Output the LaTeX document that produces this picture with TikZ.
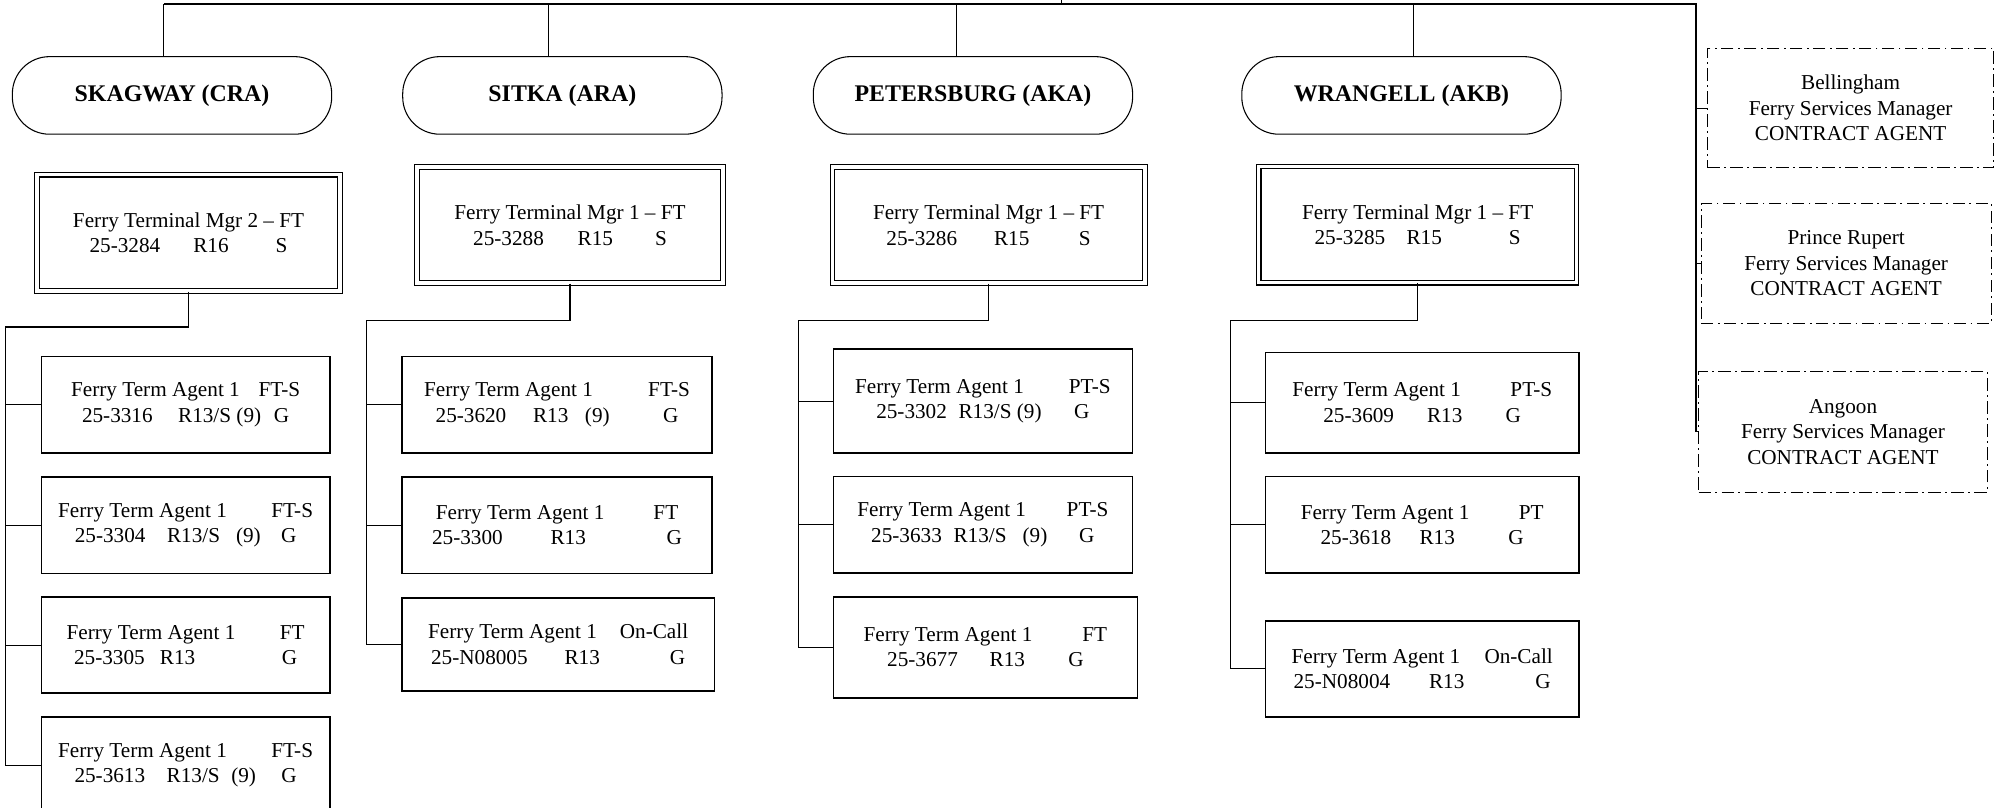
\documentclass[tikz,border=0pt]{standalone}
\usepackage{fontspec}
\setmainfont{Liberation Serif}
\newcommand{\tabsp}[1]{\hspace*{#1pt}}
\begin{document}
\begin{tikzpicture}[x=0.72pt,y=-0.72pt,
  every node/.style={font=\fontsize{12}{14.4}\selectfont},
  link/.style={line width=0.6pt},
  pill/.style={draw,line width=0.6pt,rounded corners=21pt,minimum width=180.7pt,minimum height=43.9pt,font=\fontsize{13.5}{16}\selectfont\bfseries},
  mgrbox/.style={draw,line width=0.6pt,double,double distance=2pt,minimum height=65.6pt,align=center},
  agentbox/.style={draw,line width=0.8pt,minimum height=54.4pt,align=center},
  contract/.style={draw,line width=0.6pt,dash pattern=on 7pt off 2.5pt on 1pt off 2.5pt,minimum height=67.9pt,align=center}]
\useasboundingbox (0,0) rectangle (1568,634.4);

\node[pill] (skag) at (135.2,75) {SKAGWAY (CRA)};
\node[pill] (sitka) at (442,75) {SITKA (ARA)};
\node[pill] (peter) at (764.7,75) {PETERSBURG (AKA)};
\node[pill] (wrang) at (1101.5,75) {WRANGELL (AKB)};

\node[mgrbox,minimum width=171.3pt,minimum height=65.8pt] (skmgr) at (148.2,183) {Ferry Terminal Mgr 2 – FT\\25-3284\tabsp{18.7}R16\tabsp{26.6}S};
\node[mgrbox,minimum width=173.1pt] (simgr) at (448,176.9) {Ferry Terminal Mgr 1 – FT\\25-3288\tabsp{19.1}R15\tabsp{23.8}S};
\node[mgrbox,minimum width=176.7pt] (pemgr) at (777,176.9) {Ferry Terminal Mgr 1 – FT\\25-3286\tabsp{20.9}R15\tabsp{28}S};
\node[mgrbox,minimum width=179.9pt,minimum height=65.8pt] (wrmgr) at (1114.2,176.5) {Ferry Terminal Mgr 1 – FT\\25-3285\tabsp{12}R15\tabsp{37.9}S};

\node[agentbox,minimum width=163.2pt] (skc1) at (145.9,318.2) {Ferry Term Agent 1\tabsp{10.6}FT-S\\25-3316\tabsp{14.4}R13/S (9)\tabsp{7.2}G};
\node[agentbox,minimum width=163.2pt] (skc2) at (145.9,412.8) {Ferry Term Agent 1\tabsp{25.2}FT-S\\25-3304\tabsp{12.2}R13/S\tabsp{9}(9)\tabsp{11.5}G};
\node[agentbox,minimum width=163.2pt] (skc3) at (145.9,507) {Ferry Term Agent 1\tabsp{25.2}FT\\25-3305\tabsp{8.6}R13\tabsp{49}G};
\node[agentbox,minimum width=163.2pt] (skc4) at (145.9,601.4) {Ferry Term Agent 1\tabsp{25.2}FT-S\\25-3613\tabsp{12.2}R13/S\tabsp{6.5}(9)\tabsp{14.4}G};

\node[agentbox,minimum width=175.4pt] (sic1) at (437.8,318.2) {Ferry Term Agent 1\tabsp{31.3}FT-S\\25-3620\tabsp{15.1}R13\tabsp{9.4}(9)\tabsp{30.2}G};
\node[agentbox,minimum width=175.4pt] (sic2) at (437.8,412.8) {Ferry Term Agent 1\tabsp{27.7}FT\\25-3300\tabsp{27}R13\tabsp{45.7}G};
\node[agentbox,minimum width=176.7pt,minimum height=52.6pt] (sic3) at (438.7,506.5) {Ferry Term Agent 1\tabsp{13}On-Call\\25-N08005\tabsp{20.9}R13\tabsp{39.6}G};

\node[agentbox,minimum width=169.2pt,minimum height=58.7pt] (pec1) at (772.5,315.2) {Ferry Term Agent 1\tabsp{25.5}PT-S\\25-3302\tabsp{6.6}R13/S (9)\tabsp{18.4}G};
\node[agentbox,minimum width=169.2pt] (pec2) at (772.5,412.5) {Ferry Term Agent 1\tabsp{23}PT-S\\25-3633\tabsp{6.6}R13/S\tabsp{9.1}(9)\tabsp{18}G};
\node[agentbox,minimum width=172.1pt,minimum height=57.2pt] (pec3) at (774.5,508.8) {Ferry Term Agent 1\tabsp{28.3}FT\\25-3677\tabsp{18}R13\tabsp{24.5}G};

\node[agentbox,minimum width=177.4pt,minimum height=56.9pt] (wrc1) at (1117.8,316.4) {Ferry Term Agent 1\tabsp{28}PT-S\\25-3609\tabsp{18.7}R13\tabsp{24.5}G};
\node[agentbox,minimum width=177.4pt] (wrc2) at (1117.8,412.5) {Ferry Term Agent 1\tabsp{28}PT\\25-3618\tabsp{16}R13\tabsp{30.3}G};
\node[agentbox,minimum width=177.4pt] (wrc3) at (1117.8,525.7) {Ferry Term Agent 1\tabsp{13.7}On-Call\\25-N08004\tabsp{22}R13\tabsp{40.2}G};

\node[contract,minimum width=162pt,minimum height=67.7pt] (bell) at (1454.5,85) {Bellingham\\Ferry Services Manager\\CONTRACT AGENT};
\node[contract,minimum width=164.2pt] (prup) at (1451,207) {Prince Rupert\\Ferry Services Manager\\CONTRACT AGENT};
\node[contract,minimum width=163.4pt,minimum height=68.4pt] (ang) at (1448.5,339.5) {Angoon\\Ferry Services Manager\\CONTRACT AGENT};

\coordinate (head) at (834,0);
\coordinate (topL) at (128.8,3.1);
\coordinate (topR) at (1333,3.1);
\coordinate (skdrop) at (128.8,3.1);
\coordinate (sidrop) at (431,3.1);
\coordinate (pedrop) at (752,3.1);
\coordinate (wrdrop) at (1111,3.1);
\coordinate (skbus) at (4.3,257);
\coordinate (sibus) at (287.7,252);
\coordinate (pebus) at (627.5,252);
\coordinate (wrbus) at (966.8,252);

\draw[line width=0.8pt] (topL) -- (topR) -- (topR |- ang.west);
\draw[link] (head) -- (head |- topL);
\draw[link] (skdrop) -- (skdrop |- skag.north);
\draw[link] (sidrop) -- (sidrop |- sitka.north);
\draw[link] (pedrop) -- (pedrop |- peter.north);
\draw[link] (wrdrop) -- (wrdrop |- wrang.north);
\foreach \b in {bell,prup,ang}
  \draw[link] (\b.west) -- (\b.west -| topR);

\draw[link] (skmgr.south) |- (skbus) |- (skc4.west);
\foreach \b in {skc1,skc2,skc3}
  \draw[link] (\b.west) -- (\b.west -| skbus);
\draw[link] (simgr.south) |- (sibus) |- (sic3.west);
\foreach \b in {sic1,sic2}
  \draw[link] (\b.west) -- (\b.west -| sibus);
\draw[link] (pemgr.south) |- (pebus) |- (pec3.west);
\foreach \b in {pec1,pec2}
  \draw[link] (\b.west) -- (\b.west -| pebus);
\draw[link] (wrmgr.south) |- (wrbus) |- (wrc3.west);
\foreach \b in {wrc1,wrc2}
  \draw[link] (\b.west) -- (\b.west -| wrbus);
\end{tikzpicture}
\end{document}
